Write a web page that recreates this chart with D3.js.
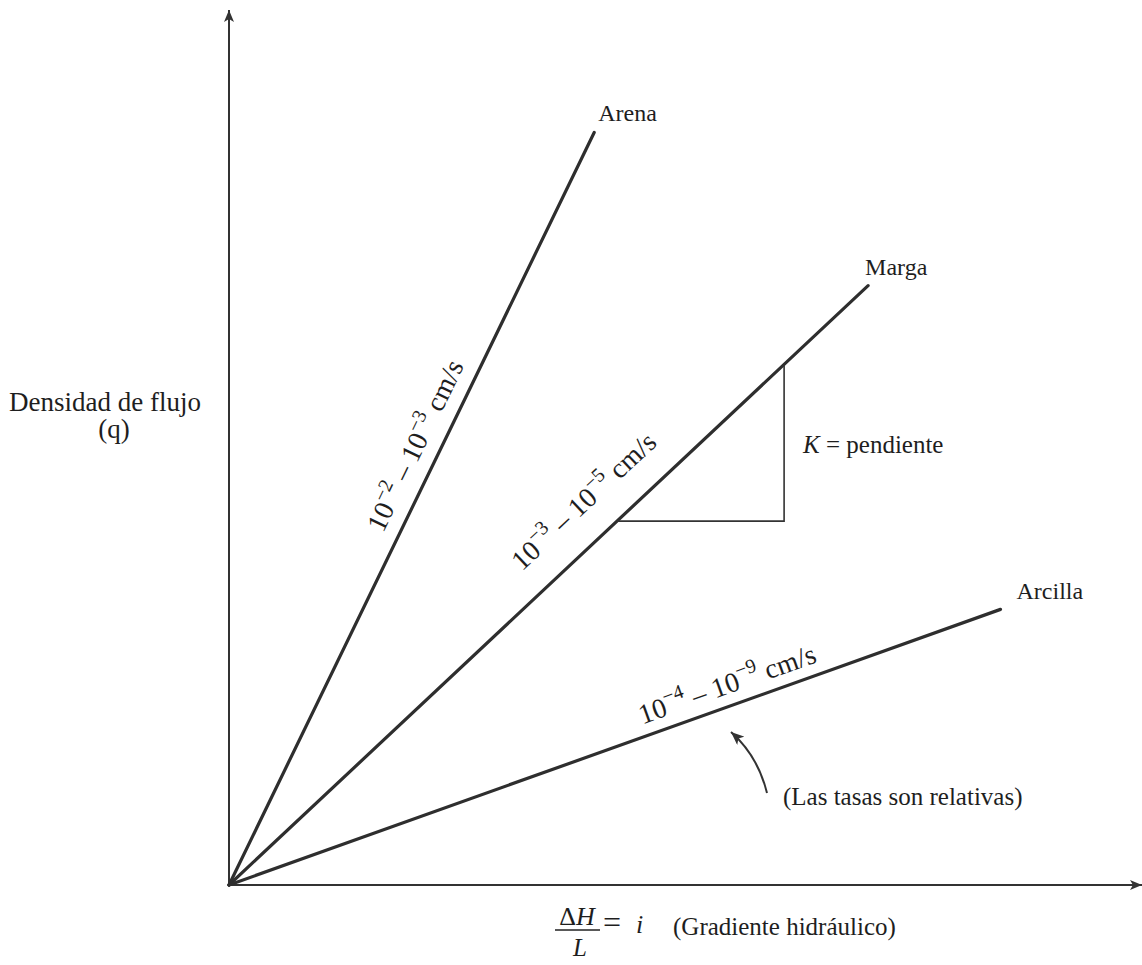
<!DOCTYPE html>
<html lang="es">
<head>
    <meta charset="UTF-8">
    <title>Densidad de flujo vs gradiente hidráulico</title>
    <script src="https://d3js.org/d3.v7.min.js"></script>
    <style>
        body { margin: 0; background: #fff; }
        text { font-family: "Liberation Serif", "DejaVu Serif", serif; fill: #1e1e1e; }
    </style>
</head>
<body>
    <svg></svg>
    <script>
        const width = 1142;
        const height = 965;

        // suelos y extremos de cada recta (gradiente, densidad de flujo)
        const soils = ['Arena', 'Marga', 'Arcilla'];
        const endGradient = [4.0, 7.0, 8.45];
        const endFlux = [8.6, 6.85, 3.15];
        // exponentes de K (cm/s)
        const kExpHigh = ['−2', '−3', '−4'];
        const kExpLow = ['−3', '−5', '−9'];
        // posicion relativa de la etiqueta sobre la recta
        const labelAt = [0.57, 0.595, 0.655];
        const labelGap = [24, 37, 21];

        // triangulo de pendiente sobre la recta de Marga
        const slopeRun = [4.25, 6.08];

        const svg = d3.select('svg')
            .attr('width', width)
            .attr('height', height);

        const x = d3.scaleLinear().domain([0, 10]).range([229, 1142]);
        const y = d3.scaleLinear().domain([0, 10]).range([885, 10]);

        const defs = svg.append('defs');
        defs.append('marker')
            .attr('id', 'head')
            .attr('viewBox', '0 0 12 10')
            .attr('refX', 12).attr('refY', 5)
            .attr('markerWidth', 12).attr('markerHeight', 10)
            .attr('markerUnits', 'userSpaceOnUse')
            .attr('orient', 'auto')
            .append('path')
            .attr('d', 'M0,0 L12,5 L0,10 L3,5 Z')
            .attr('fill', '#333');
        defs.append('marker')
            .attr('id', 'small')
            .attr('viewBox', '0 0 12 10')
            .attr('refX', 12).attr('refY', 5)
            .attr('markerWidth', 14).attr('markerHeight', 11)
            .attr('markerUnits', 'userSpaceOnUse')
            .attr('orient', 'auto')
            .append('path')
            .attr('d', 'M0,0 L12,5 L0,10 L3,5 Z')
            .attr('fill', '#333');

        // ejes
        svg.append('line')
            .attr('x1', x(0)).attr('y1', y(0))
            .attr('x2', x(10)).attr('y2', y(0))
            .attr('stroke', '#333').attr('stroke-width', 2)
            .attr('marker-end', 'url(#head)');
        svg.append('line')
            .attr('x1', x(0)).attr('y1', y(0))
            .attr('x2', x(0)).attr('y2', y(10))
            .attr('stroke', '#333').attr('stroke-width', 2)
            .attr('marker-end', 'url(#head)');

        const data = soils.map((s, i) => ({
            soil: s, gx: endGradient[i], fy: endFlux[i],
            hi: kExpHigh[i], lo: kExpLow[i], t: labelAt[i], gap: labelGap[i]
        }));

        // rectas
        svg.selectAll('.soil')
            .data(data)
            .enter()
            .append('line')
                .attr('class', 'soil')
                .attr('x1', x(0)).attr('y1', y(0))
                .attr('x2', d => x(d.gx)).attr('y2', d => y(d.fy))
                .attr('stroke', '#2e2e2e')
                .attr('stroke-width', 3.2)
                .attr('stroke-linecap', 'round');

        // nombres al final de cada recta
        const nameOffset = [[4, -12], [-3, -11], [16, -10]];
        svg.selectAll('.name')
            .data(data)
            .enter()
            .append('text')
                .attr('x', (d, i) => x(d.gx) + nameOffset[i][0])
                .attr('y', (d, i) => y(d.fy) + nameOffset[i][1])
                .attr('font-size', 24)
                .text(d => d.soil);

        // etiquetas de conductividad a lo largo de cada recta
        const lab = svg.selectAll('.klab')
            .data(data)
            .enter()
            .append('g')
                .attr('transform', d => {
                    const px = x(0) + (x(d.gx) - x(0)) * d.t;
                    const py = y(0) + (y(d.fy) - y(0)) * d.t;
                    const ang = Math.atan2(y(d.fy) - y(0), x(d.gx) - x(0)) * 180 / Math.PI;
                    return `translate(${px},${py}) rotate(${ang})`;
                })
            .append('text')
                .attr('y', d => -d.gap + 9)
                .attr('text-anchor', 'middle')
                .attr('font-size', 28);
        lab.append('tspan').text('10');
        lab.append('tspan').attr('dy', -12).attr('font-size', 20).text(d => d.hi);
        lab.append('tspan').attr('dy', 12).text(' – 10');
        lab.append('tspan').attr('dy', -12).attr('font-size', 20).text(d => d.lo);
        lab.append('tspan').attr('dy', 12).text(' cm/s');

        // triangulo de pendiente
        const marga = data[1];
        const slope = marga.fy / marga.gx;
        svg.append('path')
            .attr('d', d3.line()([
                [x(slopeRun[0]), y(slopeRun[0] * slope)],
                [x(slopeRun[1]), y(slopeRun[0] * slope)],
                [x(slopeRun[1]), y(slopeRun[1] * slope)]
            ]))
            .attr('fill', 'none')
            .attr('stroke', '#333')
            .attr('stroke-width', 1.6);

        const kText = svg.append('text')
            .attr('x', 803).attr('y', 453)
            .attr('font-size', 25);
        kText.append('tspan').attr('font-style', 'italic').text('K');
        kText.append('tspan').text(' = pendiente');

        // flecha curva y nota
        svg.append('path')
            .attr('d', 'M767,793 Q758,756 731,732')
            .attr('fill', 'none')
            .attr('stroke', '#333')
            .attr('stroke-width', 2)
            .attr('marker-end', 'url(#small)');
        svg.append('text')
            .attr('x', 783).attr('y', 805)
            .attr('font-size', 25)
            .text('(Las tasas son relativas)');

        // titulo del eje y
        svg.append('text')
            .attr('x', 105).attr('y', 411)
            .attr('text-anchor', 'middle')
            .attr('font-size', 27)
            .text('Densidad de flujo');
        svg.append('text')
            .attr('x', 114).attr('y', 438)
            .attr('text-anchor', 'middle')
            .attr('font-size', 27)
            .text('(q)');

        // titulo del eje x
        const num = svg.append('text')
            .attr('x', 577).attr('y', 925)
            .attr('text-anchor', 'middle')
            .attr('font-size', 26);
        num.append('tspan').text('Δ');
        num.append('tspan').attr('font-style', 'italic').text('H');
        svg.append('line')
            .attr('x1', 555).attr('x2', 600)
            .attr('y1', 930).attr('y2', 930)
            .attr('stroke', '#222').attr('stroke-width', 1.5);
        svg.append('text')
            .attr('x', 580).attr('y', 956)
            .attr('text-anchor', 'middle')
            .attr('font-size', 25)
            .attr('font-style', 'italic')
            .text('L');
        svg.append('text')
            .attr('x', 603).attr('y', 933)
            .attr('font-size', 32)
            .text('=');
        svg.append('text')
            .attr('x', 636).attr('y', 933)
            .attr('font-size', 26)
            .attr('font-style', 'italic')
            .text('i');
        svg.append('text')
            .attr('x', 673).attr('y', 935)
            .attr('font-size', 25)
            .text('(Gradiente hidráulico)');
    </script>
</body>
</html>
